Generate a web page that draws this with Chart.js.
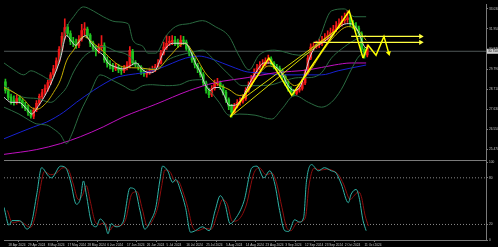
<!DOCTYPE html>
<html>
<head>
<meta charset="utf-8">
<script src="https://cdn.jsdelivr.net/npm/chart.js@4.4.1/dist/chart.umd.min.js"></script>
<style>
html, body { margin: 0; padding: 0; background: #000; }
</style>
</head>
<body>
<canvas id="XagChart" width="498" height="247"></canvas>
<script>
// daily candles, bar index 0 = 17 Apr 2024
var opens = [29.10,28.62,28.30,28.10,27.98,28.25,28.10,27.86,27.70,27.45,
  27.25,27.60,27.95,28.30,28.55,28.72,29.05,29.50,29.80,30.20,
  30.85,31.55,32.05,31.70,31.30,31.15,31.05,31.40,31.90,31.95,
  31.62,31.20,30.90,30.75,30.95,31.05,30.30,30.05,29.98,29.80,
  29.90,29.76,29.70,29.85,29.95,30.75,30.12,30.00,29.90,29.65,
  29.52,29.60,29.70,29.75,29.92,30.10,30.65,30.95,31.20,31.25,
  31.35,31.25,31.10,31.35,31.25,30.90,30.65,30.30,30.00,29.80,
  29.50,29.05,28.62,28.40,28.75,29.00,29.05,28.85,28.55,28.15,
  27.80,27.45,27.80,28.00,28.05,28.20,28.65,28.95,29.25,29.65,
  29.85,30.00,30.05,30.22,30.35,30.12,29.90,29.85,29.70,29.40,
  29.05,28.75,28.58,28.48,28.65,28.75,29.05,29.60,30.38,30.95,
  31.00,31.10,31.18,31.35,31.45,31.60,31.75,31.92,32.15,32.25,
  32.40,32.45,32.55,32.25,32.12,32.00,31.70,30.85,30.55];
var highs = [29.25,28.80,28.45,28.35,28.40,28.38,28.20,28.00,27.85,27.60,
  27.70,28.10,28.45,28.70,28.95,29.20,29.60,30.00,30.40,31.00,
  31.75,32.50,32.20,31.85,31.50,31.40,31.60,32.20,32.30,32.05,
  31.70,31.30,31.05,31.15,31.60,31.20,30.45,30.25,30.10,30.10,
  30.05,29.90,30.00,30.20,31.00,30.85,30.25,30.10,29.98,29.75,
  29.70,29.85,29.95,30.05,30.30,30.80,31.25,31.60,31.55,31.60,
  31.55,31.40,31.60,31.55,31.35,31.00,30.75,30.40,30.10,29.90,
  29.60,29.15,28.75,28.90,29.20,29.30,29.15,28.95,28.65,28.25,
  27.90,27.95,28.15,28.25,28.40,28.80,29.10,29.45,29.80,30.05,
  30.20,30.30,30.40,30.55,30.45,30.20,30.05,29.95,29.80,29.50,
  29.15,28.85,28.70,28.80,28.90,29.25,29.75,30.55,31.15,31.20,
  31.30,31.40,31.55,31.70,31.85,32.00,32.15,32.35,32.50,32.65,
  32.80,32.95,32.70,32.40,32.30,32.10,31.80,30.95,31.10];
var lows = [28.50,28.15,27.90,27.85,27.90,27.95,27.70,27.55,27.30,27.15,
  27.12,27.50,27.85,28.20,28.40,28.60,28.95,29.35,29.70,30.10,
  30.75,31.40,31.55,31.10,31.00,30.90,30.95,31.30,31.65,31.45,
  31.00,30.75,30.50,30.65,30.80,30.15,29.90,29.80,29.65,29.70,
  29.60,29.50,29.60,29.75,29.85,30.00,29.90,29.75,29.50,29.40,
  29.35,29.50,29.60,29.65,29.85,30.05,30.55,30.85,31.05,31.10,
  31.05,30.95,31.00,31.10,30.80,30.50,30.15,29.85,29.60,29.35,
  28.90,28.50,28.25,28.30,28.65,28.90,28.70,28.40,28.00,27.60,
  27.20,27.35,27.70,27.85,27.95,28.10,28.55,28.85,29.15,29.55,
  29.75,29.90,29.95,30.10,30.00,29.80,29.70,29.55,29.25,28.90,
  28.60,28.45,28.35,28.40,28.55,28.65,28.95,29.50,30.30,30.80,
  30.90,30.95,31.05,31.25,31.35,31.50,31.65,31.80,32.00,32.10,
  32.25,32.30,32.10,31.95,31.85,31.55,30.70,30.38,30.45];
var closes = [28.64,28.27,28.05,28.00,28.21,28.11,27.84,27.68,27.47,27.26,
  27.58,27.95,28.32,28.53,28.74,29.06,29.48,29.80,30.23,30.86,
  31.55,32.02,31.71,31.28,31.18,31.07,31.39,31.87,31.92,31.60,
  31.18,30.91,30.75,30.97,31.07,30.28,30.07,29.96,29.80,29.91,
  29.75,29.70,29.85,30.01,30.80,30.12,30.01,29.91,29.64,29.54,
  29.59,29.70,29.75,29.91,30.12,30.65,30.97,31.18,31.28,31.34,
  31.23,31.12,31.34,31.28,30.91,30.65,30.28,30.01,29.80,29.48,
  29.06,28.64,28.42,28.74,29.01,29.06,28.85,28.53,28.16,27.79,
  27.47,27.79,28.00,28.05,28.21,28.64,28.95,29.27,29.64,29.85,
  30.01,30.07,30.23,30.33,30.12,29.91,29.85,29.70,29.38,29.06,
  28.74,28.58,28.48,28.64,28.74,29.06,29.59,30.38,30.97,31.02,
  31.12,31.18,31.34,31.44,31.60,31.76,31.92,32.13,32.24,32.40,
  32.45,32.55,32.24,32.13,32.02,31.71,30.86,30.54,30.97];

// indicators as [bar index, value]
var bbUpper = [[-0.5,30.12],[3.0,29.75],[6.5,29.48],[9.0,29.70],[12.5,29.48],[16.0,29.22],[18.8,30.12],[21.3,31.87],[24.1,32.61],[27.6,33.14],[31.1,32.92],[34.6,32.61],[39.1,32.34],[43.4,32.24],[45.1,31.34],[48.6,31.02],[50.4,30.65],[53.2,30.65],[56.7,31.55],[60.2,32.08],[65.1,32.24],[69.7,32.40],[74.2,32.08],[79.1,31.55],[82.7,30.49],[86.2,29.75],[89.7,30.54],[95.3,30.81],[103.7,30.54],[107.2,30.65],[110.7,31.34],[115.3,32.92],[119.9,33.03],[123.4,32.61],[127.6,32.61]];
var bbMiddle = [[-0.5,28.90],[6.5,28.27],[11.1,28.21],[16.0,28.00],[19.5,28.42],[21.6,28.80],[24.1,29.64],[27.6,30.44],[31.1,30.81],[34.6,31.02],[39.1,30.75],[43.4,30.54],[46.9,29.96],[50.4,29.80],[53.9,29.85],[57.4,30.28],[61.6,30.54],[66.2,30.70],[69.7,30.81],[73.2,30.38],[76.7,29.85],[80.2,29.33],[83.7,28.90],[88.3,28.90],[94.2,28.95],[98.8,29.17],[103.7,29.33],[107.2,29.33],[111.8,29.59],[115.3,30.38],[118.8,30.86],[123.4,31.34],[127.6,31.60]];
var bbLower = [[-0.5,27.74],[4.8,27.37],[8.3,27.05],[11.1,26.84],[14.6,26.78],[17.0,26.57],[19.5,26.25],[21.6,25.78],[23.4,26.25],[26.5,27.47],[30.0,28.53],[33.5,29.48],[38.1,29.17],[41.6,28.90],[45.1,28.64],[48.6,28.90],[52.1,28.95],[56.7,28.90],[61.6,28.95],[65.1,29.17],[69.7,29.22],[72.1,28.69],[75.6,28.00],[79.1,27.31],[82.7,27.37],[88.3,27.31],[94.2,27.10],[97.7,27.63],[102.3,28.37],[107.2,28.00],[111.8,27.74],[115.3,28.00],[118.8,28.69],[122.3,29.75],[125.1,30.49],[127.6,30.65]];
var maFast = [[-0.5,28.27],[2.0,28.00],[4.8,28.00],[7.6,27.63],[9.3,27.37],[11.8,27.84],[14.6,28.53],[17.0,29.33],[19.5,30.38],[21.6,31.60],[23.4,31.28],[24.8,31.07],[26.5,31.34],[28.3,31.60],[30.4,31.18],[32.8,30.75],[34.6,30.54],[36.3,30.12],[38.8,29.91],[41.6,29.80],[44.1,29.96],[46.2,30.12],[48.6,29.75],[51.1,29.59],[53.2,29.75],[55.0,30.38],[56.7,30.91],[59.2,31.18],[62.0,31.18],[63.7,31.18],[65.5,30.75],[67.2,30.12],[69.0,29.59],[70.7,28.95],[72.5,28.64],[73.9,28.80],[75.6,28.80],[77.4,28.37],[79.1,27.84],[80.9,27.84],[82.7,28.00],[84.4,28.42],[86.5,29.06],[89.0,29.70],[91.4,30.12],[93.5,30.12],[95.6,29.91],[97.7,29.59],[99.8,28.95],[102.0,28.64],[104.1,28.80],[105.8,29.48],[107.6,30.38],[109.3,30.91],[111.8,31.18],[114.2,31.44],[116.7,31.81],[118.8,32.13],[121.3,32.24],[123.4,32.13],[125.1,31.71],[126.9,31.02],[128.3,30.91]];
var maMid = [[-0.5,28.80],[3.0,28.53],[6.5,28.16],[9.0,27.74],[11.1,27.63],[14.6,28.00],[17.0,28.53],[19.5,29.22],[21.6,30.23],[24.1,30.81],[27.6,31.55],[31.1,31.18],[34.6,30.75],[38.1,30.23],[41.6,29.91],[47.6,29.85],[53.2,29.75],[58.1,30.49],[63.4,31.18],[67.2,30.49],[70.7,29.59],[74.2,29.06],[79.1,28.69],[82.7,28.37],[85.5,28.53],[88.3,29.22],[93.2,29.96],[97.7,29.59],[102.3,28.90],[107.2,29.59],[111.8,30.65],[116.3,31.55],[121.3,32.08],[124.8,31.87],[127.6,31.34]];
var maSlow = [[-0.5,26.04],[5.5,26.41],[10.0,26.68],[14.6,26.94],[20.6,27.47],[25.1,28.00],[31.1,28.64],[35.6,29.06],[39.1,29.33],[43.4,29.48],[48.6,29.59],[53.2,29.75],[59.2,30.12],[63.7,30.38],[68.6,30.49],[72.1,30.38],[76.7,30.12],[81.3,29.85],[85.5,29.64],[90.7,29.59],[97.7,29.48],[104.8,29.48],[111.8,29.48],[117.7,29.70],[122.3,29.85],[127.6,30.01]];
var ma200 = [[-0.5,25.20],[11.1,25.46],[19.5,25.78],[26.5,26.15],[34.6,26.68],[41.6,27.21],[53.2,27.90],[65.1,28.64],[74.2,29.06],[85.5,29.33],[95.3,29.59],[107.2,29.75],[116.3,30.01],[122.3,30.12],[127.6,30.12]];

// zigzag, its projection and drawn lines
var zigzag = [[79.5,27.21],[93.2,30.38],[101.3,28.37],[121.6,32.92],[126.5,30.38]];
var zigzagNext = [[126.5,30.38],[128.3,31.07],[131.1,30.54],[133.9,31.55],[135.6,30.65]];
var trendA = [[79.5,27.21],[118.8,32.13]];
var trendB = [[83.7,28.16],[116.3,31.81]];
var levelHigh = [[122.3,31.55],[146.9,31.55]];
var levelLow = [[109.0,31.23],[146.9,31.23]];
var lastPrice = 30.75;

// stochastic
var stochMain = [[-0.5,42],[1.3,19],[2.3,25],[4.8,25],[5.8,23],[7.6,14],[9.3,23],[11.1,59],[12.8,93],[15.3,82],[16.3,80],[19.5,95],[21.3,93],[23.0,76],[25.1,46],[26.5,53],[27.6,76],[28.6,59],[30.4,23],[32.1,17],[33.5,27],[35.3,19],[36.3,8],[37.4,21],[39.1,17],[41.6,23],[44.1,67],[45.8,65],[47.6,38],[49.3,14],[51.4,25],[53.2,42],[54.6,76],[55.6,95],[57.4,89],[59.2,74],[60.2,78],[62.0,63],[63.7,42],[65.5,10],[67.2,12],[69.7,17],[72.1,12],[74.2,38],[76.0,57],[77.7,46],[79.5,21],[81.3,27],[84.4,50],[87.2,93],[89.0,95],[91.4,80],[93.5,89],[95.3,72],[97.0,38],[98.8,12],[100.2,11],[102.3,26],[104.1,23],[105.5,29],[106.5,76],[108.3,97],[110.7,89],[112.8,93],[115.3,89],[117.0,86],[118.8,72],[121.3,48],[122.3,59],[124.1,65],[125.1,55],[126.5,25],[127.6,12]];
var stochSignal = [[0.7,38],[2.5,22],[5.0,24],[7.0,20],[8.8,16],[10.5,30],[12.0,60],[13.8,88],[16.0,84],[18.0,86],[20.4,93],[22.3,90],[24.0,72],[25.8,52],[27.3,58],[28.6,70],[30.0,50],[31.6,25],[33.2,20],[35.0,22],[36.8,12],[38.2,18],[40.0,18],[42.5,26],[44.8,60],[46.6,62],[48.4,40],[50.2,18],[52.2,26],[54.0,44],[55.3,70],[56.4,90],[58.2,88],[60.0,76],[61.0,76],[62.8,62],[64.5,42],[66.3,16],[68.0,12],[70.5,15],[72.8,14],[75.0,34],[76.8,52],[78.5,46],[80.3,24],[82.0,25],[85.2,45],[87.8,85],[89.8,93],[92.2,84],[94.3,86],[96.0,72],[97.8,42],[99.5,16],[101.0,12],[103.0,22],[104.8,24],[106.2,30],[107.3,68],[109.1,92],[111.5,90],[113.6,91],[116.0,89],[117.8,84],[119.6,72],[122.0,52],[123.1,56],[124.9,62],[125.9,56],[127.2,32],[128.4,18]];
var stochLevels = [80, 20];

// axis ticks
var priceTicks = [33.03,32.49,31.95,31.41,30.87,30.33,29.79,29.25,28.71,28.17,27.63,27.09,26.55,26.01,25.47];
var stochTicks = [100, 80, 20, 0];
var dateIdx = [1,8,15,22,29,36,43,50,57,64,71,78,85,92,99,106,113,120,127];
var dateLabels = ['18 Apr 2024','29 Apr 2024','8 May 2024','17 May 2024','28 May 2024','6 Jun 2024','17 Jun 2024','26 Jun 2024','5 Jul 2024','16 Jul 2024','25 Jul 2024','5 Aug 2024','14 Aug 2024','23 Aug 2024','3 Sep 2024','12 Sep 2024','23 Sep 2024','2 Oct 2024','11 Oct 2024'];

var X_MIN = -0.5, X_MAX = 170;
var axisGrey = '#7a7a7a';
var textGrey = '#c4c4c4';
var upColor = '#f01818', downColor = '#20c420';
var tinyFont = { size: 3.2, family: 'Liberation Sans' };

function pts(arr) {
  return arr.map(function(p) { return {x: p[0], y: p[1]}; });
}

function lineSet(arr, color, axis, extra) {
  var ds = {
    type: 'line',
    data: pts(arr),
    yAxisID: axis,
    borderColor: color,
    borderWidth: 1,
    pointRadius: 0,
    cubicInterpolationMode: 'monotone',
    order: 5
  };
  for (var k in extra) ds[k] = extra[k];
  return ds;
}

var candleColors = closes.map(function(c, i) {
  return c >= opens[i] ? upColor : downColor;
});

var datasets = [
  {
    type: 'bar',
    label: 'wick',
    data: closes.map(function(c, i) { return {x: i, y: [lows[i], highs[i]]}; }),
    backgroundColor: candleColors,
    barThickness: 1,
    grouped: false,
    yAxisID: 'y',
    order: 11
  },
  {
    type: 'bar',
    label: 'body',
    data: closes.map(function(c, i) { return {x: i, y: [opens[i], c]}; }),
    backgroundColor: candleColors,
    barThickness: 2,
    minBarLength: 1,
    grouped: false,
    yAxisID: 'y',
    order: 10
  },
  lineSet([[X_MIN, lastPrice], [X_MAX, lastPrice]], '#4e5656', 'y', {order: 12}),
  lineSet(ma200, '#c010c0', 'y', {order: 6}),
  lineSet(maSlow, '#1822d0', 'y', {order: 6}),
  lineSet(bbUpper, '#2a6a40', 'y'),
  lineSet(bbMiddle, '#2a6a40', 'y'),
  lineSet(bbLower, '#2a6a40', 'y'),
  lineSet(maMid, '#c4ac00', 'y', {order: 4}),
  lineSet(maFast, '#d8d8d8', 'y', {order: 3}),
  lineSet(trendA, '#d6d600', 'y', {order: 2, cubicInterpolationMode: 'default'}),
  lineSet(trendB, '#d6d600', 'y', {order: 2, cubicInterpolationMode: 'default'}),
  lineSet(zigzag, '#ffff00', 'y', {order: 1, borderWidth: 1.5, cubicInterpolationMode: 'default'}),
  lineSet(zigzagNext, '#ffff00', 'y', {order: 1, borderWidth: 1.5, cubicInterpolationMode: 'default',
    pointRadius: [0, 0, 0, 0, 3], pointStyle: 'triangle', rotation: 165,
    pointBackgroundColor: '#ffff00', pointBorderWidth: 0}),
  lineSet(levelHigh, '#ffff40', 'y', {order: 1, borderWidth: 1.4, cubicInterpolationMode: 'default',
    pointRadius: [0, 3], pointStyle: 'triangle', rotation: 90,
    pointBackgroundColor: '#ffff40', pointBorderWidth: 0}),
  lineSet(levelLow, '#ffff40', 'y', {order: 1, borderWidth: 1.4, cubicInterpolationMode: 'default',
    pointRadius: [0, 3], pointStyle: 'triangle', rotation: 90,
    pointBackgroundColor: '#ffff40', pointBorderWidth: 0}),
  lineSet(stochSignal, '#8e0d0d', 'y2', {order: 4}),
  lineSet(stochMain, '#2fb3a6', 'y2', {order: 3})
];

stochLevels.forEach(function(v) {
  datasets.push(lineSet([[X_MIN, v], [X_MAX, v]], '#8a8a8a', 'y2',
    {borderDash: [1, 2], order: 9, cubicInterpolationMode: 'default'}));
});

// frame between the two panes and the current price tag on the axis
var framePlugin = {
  id: 'frame',
  afterDraw: function(chart) {
    var ctx = chart.ctx, area = chart.chartArea;
    var yMain = chart.scales.y, yStoch = chart.scales.y2;
    var sep = Math.round(yStoch.top + 2) + 0.5;
    ctx.save();
    ctx.strokeStyle = axisGrey;
    ctx.lineWidth = 1;
    ctx.beginPath();
    ctx.moveTo(area.left, sep);
    ctx.lineTo(area.right, sep);
    ctx.stroke();
    var py = yMain.getPixelForValue(lastPrice);
    ctx.fillStyle = '#d0d0d0';
    ctx.fillRect(area.right + 1, py - 2.5, 12, 5);
    ctx.fillStyle = '#000';
    ctx.font = '3.2px "Liberation Sans"';
    ctx.textBaseline = 'middle';
    ctx.fillText(lastPrice.toFixed(3), area.right + 2, py + 0.3);
    ctx.restore();
  }
};

var ctx = document.getElementById('XagChart').getContext('2d');
var config = {
  type: 'bar',
  data: { datasets: datasets },
  options: {
    responsive: false,
    animation: false,
    devicePixelRatio: 1,
    layout: { padding: 0 },
    plugins: { legend: { display: false }, tooltip: { enabled: false } },
    scales: {
      x: {
        type: 'linear',
        min: X_MIN,
        max: X_MAX,
        offset: false,
        grid: { drawOnChartArea: false, tickLength: 2, color: axisGrey },
        border: { color: axisGrey },
        ticks: {
          color: textGrey,
          font: tinyFont,
          padding: 1,
          align: 'start',
          maxRotation: 0,
          autoSkip: false,
          callback: function(v) {
            var k = dateIdx.indexOf(v);
            return k < 0 ? '' : dateLabels[k];
          }
        },
        afterBuildTicks: function(s) {
          s.ticks = dateIdx.map(function(v) { return {value: v}; });
        },
        afterFit: function(s) {
          s.height = 7;
          s.paddingLeft = 0;
          s.paddingRight = 0;
        }
      },
      y: {
        type: 'linear',
        position: 'right',
        stack: 'panes',
        stackWeight: 157,
        min: 24.984,
        max: 33.295,
        grid: { drawOnChartArea: false, tickLength: 2, color: axisGrey },
        border: { color: axisGrey },
        ticks: {
          color: textGrey,
          font: tinyFont,
          padding: 1,
          callback: function(v) { return v.toFixed(3); }
        },
        afterBuildTicks: function(s) {
          s.ticks = priceTicks.map(function(v) { return {value: v}; });
        },
        afterFit: function(s) {
          s.width = 12;
          s.paddingTop = 0;
          s.paddingBottom = 0;
        }
      },
      y2: {
        type: 'linear',
        position: 'right',
        stack: 'panes',
        stackWeight: 83,
        min: 0,
        max: 105,
        grid: { drawOnChartArea: false, tickLength: 2, color: axisGrey },
        border: { color: axisGrey },
        ticks: {
          color: textGrey,
          font: tinyFont,
          padding: 1
        },
        afterBuildTicks: function(s) {
          s.ticks = stochTicks.map(function(v) { return {value: v}; });
        },
        afterFit: function(s) {
          s.width = 12;
          s.paddingTop = 0;
          s.paddingBottom = 0;
        }
      }
    }
  },
  plugins: [framePlugin]
};

var chart = new Chart(ctx, config);
</script>
</body>
</html>
